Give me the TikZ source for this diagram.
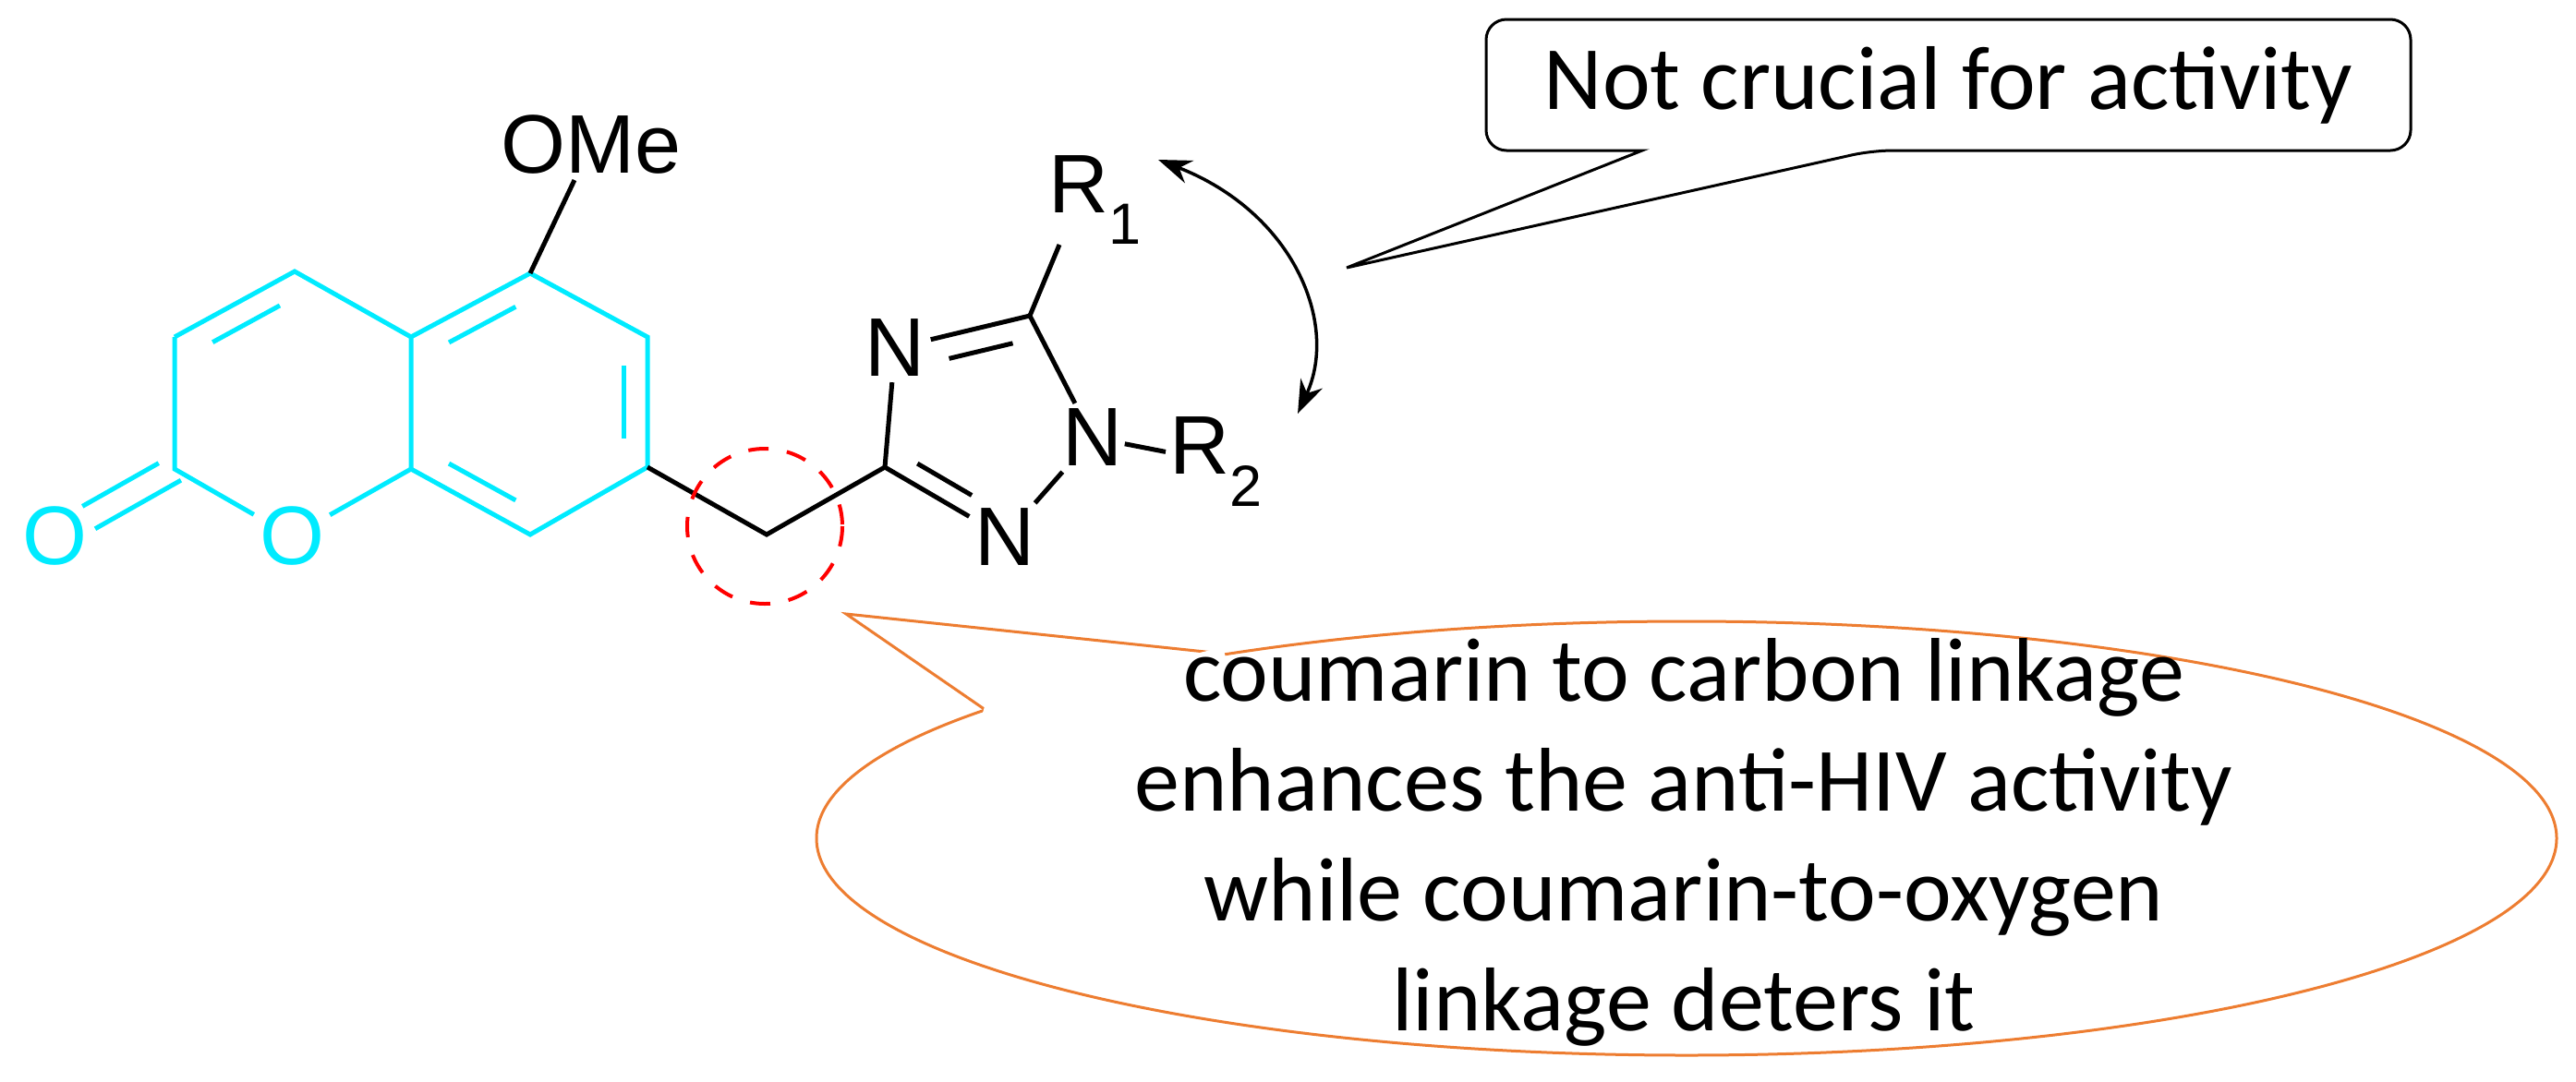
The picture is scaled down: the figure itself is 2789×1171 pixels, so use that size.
\documentclass[tikz,border=0pt]{standalone}
\usepackage{fontspec}
\setmainfont{Liberation Sans}
\newfontfamily\carlitofont{Carlito}
\usetikzlibrary{calc,arrows.meta,shapes.geometric}
\definecolor{cy}{RGB}{0,235,255}
\definecolor{orng}{RGB}{237,125,49}
\begin{document}
\begin{tikzpicture}[x=1pt,y=-1pt,
  bond/.style={line width=5pt},
  cb/.style={bond,cy},
  atom/.style={font=\fontsize{90}{90}\selectfont,inner sep=6pt},
  note/.style={font=\carlitofont\fontsize{98}{119}\selectfont,align=center}]
\useasboundingbox (0,0) rectangle (2789,1171);
% coumarin atoms
\coordinate (c4) at (319,294);
\coordinate (c3) at (189,365);
\coordinate (c2) at (189,508);
\node[atom,cy] (oc) at (60,581) {O};
\node[atom,cy] (o1) at (316,581) {O};
\coordinate (c8a) at (445,508);
\coordinate (c4a) at (445,365);
\coordinate (c5) at (574,296);
\coordinate (c6) at (701,365);
\coordinate (c7) at (701,506);
\coordinate (c8) at (574,579);
\coordinate (lc) at (317,436);
\coordinate (rc) at (573,436);
\node[atom] (ome) at (640,157) {OMe};
% carbonyl double bond end points
\coordinate (d1a) at ($(c2)!14pt!90:(oc)$);
\coordinate (d1b) at ($(c2)!0.72!(oc)!14pt!-90:(c2)$);
\coordinate (d2a) at ($(c2)!0.08!(oc)!14pt!-90:(oc)$);
\coordinate (d2b) at ($(c2)!0.72!(oc)!14pt!90:(c2)$);
% linker + triazole
\coordinate (ch2) at (830,579);
\coordinate (t3) at (958,506);
\node[atom] (n4) at (969,377) {N};
\coordinate (t5) at (1115,342);
\node[atom] (n1) at (1183,474) {N};
\node[atom] (n2) at (1088,582) {N};
\coordinate (tc) at (1063,456);
\coordinate (r1b) at (1147,265);
\node[atom,anchor=south west,inner sep=0pt] (r1) at (1135,265) {R$_{\mathrm{1}}$};
\node[atom,anchor=west,inner sep=4pt] (r2) at (1262,500) {R$_{\mathrm{2}}$};
% coumarin bonds
\draw[cb] (c3)--(c4)--(c4a)--(c5)--(c6)--(c7)--(c8)--(c8a)--(c4a);
\draw[cb] (c3)--(c2)--(o1)--(c8a);
\draw[cb] (d1a)--(d1b);
\draw[cb] (d2a)--(d2b);
\draw[cb] ($(c3)!0.15!(c4)!0.2!(lc)$)--($(c4)!0.15!(c3)!0.2!(lc)$);
\draw[cb] ($(c4a)!0.15!(c5)!0.2!(rc)$)--($(c5)!0.15!(c4a)!0.2!(rc)$);
\draw[cb] ($(c6)!0.15!(c7)!0.2!(rc)$)--($(c7)!0.15!(c6)!0.2!(rc)$);
\draw[cb] ($(c8)!0.15!(c8a)!0.2!(rc)$)--($(c8a)!0.15!(c8)!0.2!(rc)$);
\draw[bond] (c5)--(ome);
% linker, triazole bonds
\draw[bond] (c7)--(ch2)--(t3)--(n4);
\draw[bond] (n4)--(t5)--(n1)--(n2)--(t3);
\draw[bond] ($(n4)!0.32!(t5)!0.25!(tc)$)--($(t5)!0.05!(n4)!0.25!(tc)$);
\draw[bond] ($(t3)!0.12!(n2)!0.22!(tc)$)--($(n2)!0.3!(t3)!0.22!(tc)$);
\draw[bond] (t5)--(r1b);
\draw[bond,shorten <=-4pt] (n1)--(r2);
% red circle
\draw[red,line width=4pt,dash pattern=on 22pt off 20pt] (828,570) circle (84);
% curved arrow
\draw[line width=3.5pt,{Stealth[length=36pt,width=26pt]}-{Stealth[length=36pt,width=26pt]}]
  (1254,173) .. controls (1400,230) and (1450,350) .. (1405,448);
% callout box
\draw[line width=3pt,fill=white,rounded corners=22pt] (1778,163) -- (1609,163) -- (1609,21) -- (2610,21) -- (2610,163) -- (2027,163) [sharp corners] -- (1458,290) -- cycle;
\node[font=\carlitofont\fontsize{98}{119}\selectfont] (box) at (2109.5,92) {Not crucial for activity};
% ellipse callout
\draw[orng,line width=3pt] (1826,908) ellipse (942 and 235);
\filldraw[orng,line width=3pt,fill=white] (1067,769)--(916,665)--(1324,708);
\fill[white] (1064,772) -- (1067,762) -- (1324,701) -- (1327,712) -- cycle;
\node[note] (txt) at (1823,912) {coumarin to carbon linkage\\enhances the anti-HIV activity\\while coumarin-to-oxygen\\linkage deters it};
\end{tikzpicture}
\end{document}
